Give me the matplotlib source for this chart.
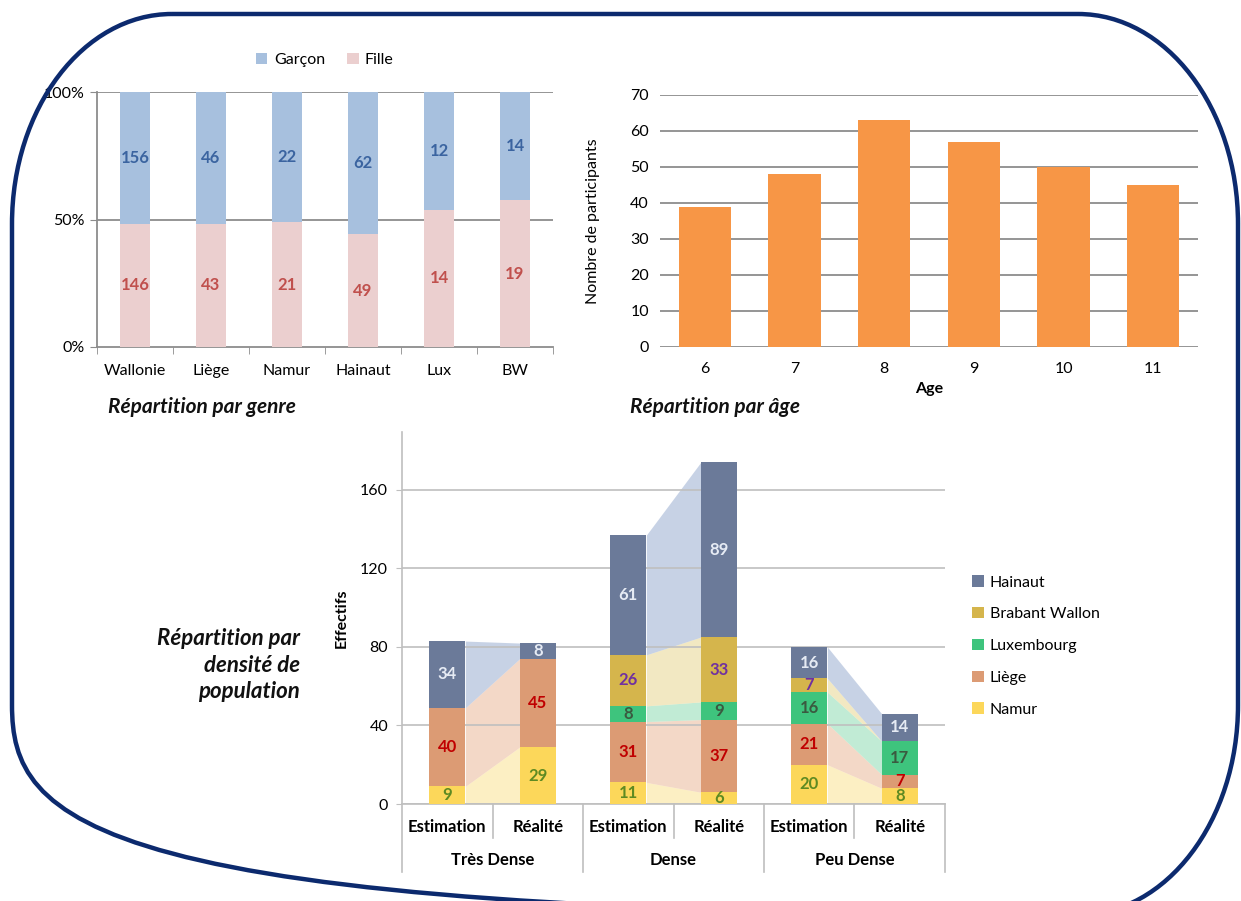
import matplotlib
matplotlib.use("Agg")
import matplotlib.pyplot as plt
import numpy as np
from matplotlib.path import Path
from matplotlib.patches import PathPatch
from matplotlib.transforms import Affine2D, blended_transform_factory

plt.rcParams["font.family"] = ["Lato", "DejaVu Sans"]

W, H = 1241, 901

# Répartition par genre
regions = ["Wallonie", "Liège", "Namur", "Hainaut", "Lux", "BW"]
garcons = [156, 46, 22, 62, 12, 14]
filles = [146, 43, 21, 49, 14, 19]

# Répartition par âge
ages = [6, 7, 8, 9, 10, 11]
participants = [39, 48, 63, 57, 50, 45]

# Répartition par densité (Estimation / Réalité par groupe)
densites = ["Très Dense", "Dense", "Peu Dense"]
types = ["Estimation", "Réalité"]
namur = [9, 29, 11, 6, 20, 8]
liege = [40, 45, 31, 37, 21, 7]
luxembourg = [0, 0, 8, 9, 16, 17]
brabant = [0, 0, 26, 33, 7, 0]
hainaut = [34, 8, 61, 89, 16, 14]

fig = plt.figure(figsize=(W / 100, H / 100), dpi=100)
fig.patch.set_facecolor("white")
px = Affine2D().scale(1 / W, -1 / H).translate(0, 1) + fig.transFigure


def add_axes_px(x0, y0, x1, y1):
    return fig.add_axes([x0 / W, 1 - y1 / H, (x1 - x0) / W, (y1 - y0) / H])


def rounded_frame(x0, y0, x1, y1, rx, ry):
    k = 0.5523
    verts = [
        (x0 + rx, y0), (x1 - rx, y0),
        (x1 - rx + k * rx, y0), (x1, y0 + ry - k * ry), (x1, y0 + ry),
        (x1, y1 - ry),
        (x1, y1 - ry + k * ry), (x1 - rx + k * rx, y1), (x1 - rx, y1),
        (x0 + rx, y1),
        (x0 + rx - k * rx, y1), (x0, y1 - ry + k * ry), (x0, y1 - ry),
        (x0, y0 + ry),
        (x0, y0 + ry - k * ry), (x0 + rx - k * rx, y0), (x0 + rx, y0),
    ]
    C = Path.CURVE4
    codes = [Path.MOVETO, Path.LINETO, C, C, C, Path.LINETO, C, C, C,
             Path.LINETO, C, C, C, Path.LINETO, C, C, C]
    return Path(verts, codes)


frame = PathPatch(rounded_frame(12, 14, 1238, 915, 160, 210), transform=px,
                  facecolor="none", edgecolor="#0c2a6e", linewidth=3.2)
fig.patches.append(frame)

title_kw = dict(fontsize=15, fontweight="bold", style="italic", va="center",
                color="#111111")
TICK = 11.5
LBL = 12

# ---- genre (100% stacked) ----
ax1 = add_axes_px(97, 92, 553, 347)
g = np.array(garcons, dtype=float)
f = np.array(filles, dtype=float)
pf = f / (f + g) * 100
pg = g / (f + g) * 100
x = np.arange(len(regions))
b_f = ax1.bar(x, pf, 0.4, color="#ebcfcf", zorder=3)
b_g = ax1.bar(x, pg, 0.4, bottom=pf, color="#a7c0de", zorder=3)
for i in range(len(regions)):
    ax1.text(i, pf[i] / 2, str(filles[i]), ha="center", va="center",
             fontsize=LBL, fontweight="bold", color="#c0504d", zorder=4)
    ax1.text(i, pf[i] + pg[i] / 2, str(garcons[i]), ha="center", va="center",
             fontsize=LBL, fontweight="bold", color="#3b64a0", zorder=4)
ax1.set_xlim(-0.5, len(regions) - 0.5)
ax1.set_ylim(0, 100)
ax1.set_yticks([0, 50, 100])
ax1.set_yticklabels(["0%", "50%", "100%"])
ax1.set_xticks(x)
ax1.set_xticklabels(regions)
ax1.set_xticks(np.arange(-0.5, len(regions)), minor=True)
ax1.tick_params(axis="x", which="major", length=0, pad=12, labelsize=TICK)
ax1.tick_params(axis="x", which="minor", length=5, color="#8c8c8c")
ax1.tick_params(axis="y", length=5, color="#8c8c8c", labelsize=TICK, pad=4)
for y in (50, 100):
    ax1.axhline(y, color="#8c8c8c", linewidth=1.3, zorder=2)
for s in ("top", "right"):
    ax1.spines[s].set_visible(False)
for s in ("left", "bottom"):
    ax1.spines[s].set_color("#8c8c8c")
    ax1.spines[s].set_linewidth(1.3)
ax1.legend([b_g, b_f], ["Garçon", "Fille"], loc="center",
           bbox_to_anchor=(0.5, 1.125), ncol=2, frameon=False, fontsize=TICK,
           handlelength=0.7, handleheight=0.7, handletextpad=0.4,
           columnspacing=1.4)
fig.text(108 / W, 1 - 407 / H, "Répartition par genre", **title_kw)

# ---- âge ----
ax2 = add_axes_px(660, 95, 1198, 347)
ax2.bar(np.arange(len(ages)), participants, 0.58, color="#f79646", zorder=3)
ax2.set_ylim(0, 70)
ax2.set_xlim(-0.5, len(ages) - 0.5)
ax2.set_yticks(range(0, 71, 10))
ax2.set_xticks(np.arange(len(ages)))
ax2.set_xticklabels([str(a) for a in ages])
ax2.yaxis.grid(True, color="#8c8c8c", linewidth=1.3, zorder=0)
ax2.set_axisbelow(True)
for s in ax2.spines.values():
    s.set_visible(False)
ax2.tick_params(length=0, labelsize=TICK)
ax2.tick_params(axis="x", pad=11)
ax2.tick_params(axis="y", pad=8)
ax2.set_xlabel("Age", fontsize=TICK, fontweight="bold", labelpad=4)
ax2.set_ylabel("Nombre de participants", fontsize=TICK, labelpad=22)
fig.text(630 / W, 1 - 407 / H, "Répartition par âge", **title_kw)

# ---- densité de population ----
ax3 = add_axes_px(402, 432, 945, 804)
series = [
    ("Namur", namur, "#fcd75a", "#fbe189", "#5e8a22"),
    ("Liège", liege, "#dc9b74", "#e9b391", "#c00000"),
    ("Luxembourg", luxembourg, "#3ec47d", "#85d9ad", "#3a5a40"),
    ("Brabant Wallon", brabant, "#d5b54c", "#e7d387", "#7030a0"),
    ("Hainaut", hainaut, "#6b7a99", "#91a7cd", "#e6ebf4"),
]
n = len(namur)
xb = np.arange(n)
bw = 0.4
bottom = np.zeros(n)
handles = []
for name, vals, col, light, tcol in series:
    vals = np.array(vals, dtype=float)
    top = bottom + vals
    h = ax3.bar(xb, vals, bw, bottom=bottom, color=col, zorder=3, label=name)
    handles.append(h)
    # bandes de liaison Estimation -> Réalité
    for gi in range(len(densites)):
        e, r = 2 * gi, 2 * gi + 1
        ax3.fill_between([e + bw / 2, r - bw / 2], [bottom[e], bottom[r]],
                         [top[e], top[r]], color=light, alpha=0.5,
                         linewidth=0, zorder=1)
    for i in range(n):
        if vals[i] > 0:
            ax3.text(i, bottom[i] + vals[i] / 2, str(int(vals[i])),
                     ha="center", va="center", fontsize=LBL,
                     fontweight="bold", color=tcol, zorder=4)
    bottom = top

ax3.set_xlim(-0.5, n - 0.5)
ax3.set_ylim(0, 189.5)
ax3.set_yticks([0, 40, 80, 120, 160])
ax3.yaxis.grid(True, color="#bfbfbf", linewidth=1.2, zorder=2)
ax3.set_xticks([])
ax3.tick_params(axis="y", length=4, color="#bfbfbf", labelsize=TICK, pad=6)
for s in ("top", "right"):
    ax3.spines[s].set_visible(False)
for s in ("left", "bottom"):
    ax3.spines[s].set_color("#bfbfbf")
    ax3.spines[s].set_linewidth(1.2)
ax3.set_ylabel("Effectifs", fontsize=TICK, fontweight="bold", labelpad=8)

bt = blended_transform_factory(ax3.transData, ax3.transAxes)
for i in range(n):
    ax3.text(i, -0.062, types[i % 2], transform=bt, ha="center",
             va="center", fontsize=LBL, fontweight="bold")
for gi, d in enumerate(densites):
    ax3.text(2 * gi + 0.5, -0.151, d, transform=bt, ha="center",
             va="center", fontsize=LBL, fontweight="bold")
    ax3.plot([2 * gi + 0.5] * 2, [0, -0.091], transform=bt, clip_on=False,
             color="#bfbfbf", linewidth=1.2)
for xs in np.arange(-0.5, n, 2):
    ax3.plot([xs, xs], [0, -0.183], transform=bt, clip_on=False,
             color="#bfbfbf", linewidth=1.2)

fig.legend(handles[::-1], [s[0] for s in series][::-1], loc="center left",
           bbox_to_anchor=(958 / W, 1 - 646 / H), frameon=False, fontsize=TICK,
           handlelength=0.7, handleheight=0.7, handletextpad=0.4,
           labelspacing=1.1)

fig.text(300 / W, 1 - 665 / H, "Répartition par\ndensité de\npopulation",
         ha="right", multialignment="right", linespacing=1.3,
         **dict(title_kw, fontsize=16))

fig.savefig("out.png", dpi=100, facecolor="white")
